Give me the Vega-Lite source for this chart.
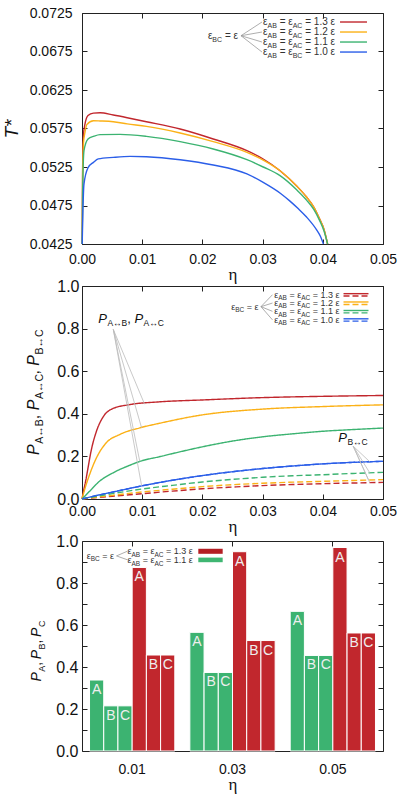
{
  "$schema": "https://vega.github.io/schema/vega-lite/v6.json",
  "padding": {"left": 1, "top": 5, "right": 5, "bottom": 5},
  "bounds": "flush",
  "spacing": 42,
  "config": {
    "font": "Liberation Sans",
    "view": {"stroke": "#222", "strokeWidth": 1},
    "axis": {"grid": false, "domain": false, "tickColor": "#222", "tickSize": -5, "labelColor": "#111", "labelFontSize": 14, "labelFlush": false, "labelOverlap": false, "titleFontWeight": "normal", "titleColor": "#111", "titleFont": "Liberation Serif", "titleFontSize": 17},
    "text": {"color": "#333", "font": "Liberation Sans"}
  },
  "datasets": {
    "temps": [
      {"eta": 0.00003, "T": 0.0425, "r": "1.3"}, {"eta": 0.0001, "T": 0.052, "r": "1.3"}, {"eta": 0.00025, "T": 0.0567, "r": "1.3"}, {"eta": 0.0005, "T": 0.0581, "r": "1.3"}, {"eta": 0.001, "T": 0.0592, "r": "1.3"}, {"eta": 0.0019, "T": 0.0595, "r": "1.3"}, {"eta": 0.003, "T": 0.05955, "r": "1.3"}, {"eta": 0.0052, "T": 0.05925, "r": "1.3"}, {"eta": 0.0075, "T": 0.0589, "r": "1.3"}, {"eta": 0.0107, "T": 0.05838, "r": "1.3"}, {"eta": 0.0163, "T": 0.05743, "r": "1.3"}, {"eta": 0.0218, "T": 0.05614, "r": "1.3"}, {"eta": 0.0274, "T": 0.05462, "r": "1.3"}, {"eta": 0.0301, "T": 0.05354, "r": "1.3"}, {"eta": 0.0329, "T": 0.05202, "r": "1.3"}, {"eta": 0.0357, "T": 0.05, "r": "1.3"}, {"eta": 0.0373, "T": 0.0486, "r": "1.3"}, {"eta": 0.0385, "T": 0.0473, "r": "1.3"}, {"eta": 0.0395, "T": 0.0457, "r": "1.3"}, {"eta": 0.0402, "T": 0.0444, "r": "1.3"}, {"eta": 0.0408, "T": 0.0425, "r": "1.3"},
      {"eta": 0.00003, "T": 0.0425, "r": "1.2"}, {"eta": 0.0001, "T": 0.051, "r": "1.2"}, {"eta": 0.00025, "T": 0.0557, "r": "1.2"}, {"eta": 0.0005, "T": 0.057, "r": "1.2"}, {"eta": 0.0008, "T": 0.058, "r": "1.2"}, {"eta": 0.0019, "T": 0.05851, "r": "1.2"}, {"eta": 0.003, "T": 0.05848, "r": "1.2"}, {"eta": 0.0052, "T": 0.05838, "r": "1.2"}, {"eta": 0.0075, "T": 0.0581, "r": "1.2"}, {"eta": 0.0107, "T": 0.05777, "r": "1.2"}, {"eta": 0.0163, "T": 0.05691, "r": "1.2"}, {"eta": 0.0218, "T": 0.05579, "r": "1.2"}, {"eta": 0.0274, "T": 0.0544, "r": "1.2"}, {"eta": 0.0301, "T": 0.0534, "r": "1.2"}, {"eta": 0.0329, "T": 0.05202, "r": "1.2"}, {"eta": 0.0357, "T": 0.05, "r": "1.2"}, {"eta": 0.0373, "T": 0.0486, "r": "1.2"}, {"eta": 0.0385, "T": 0.0473, "r": "1.2"}, {"eta": 0.0395, "T": 0.0457, "r": "1.2"}, {"eta": 0.0402, "T": 0.0444, "r": "1.2"}, {"eta": 0.0408, "T": 0.0425, "r": "1.2"},
      {"eta": 0.00003, "T": 0.0425, "r": "1.1"}, {"eta": 0.0001, "T": 0.049, "r": "1.1"}, {"eta": 0.00033, "T": 0.05462, "r": "1.1"}, {"eta": 0.001, "T": 0.05614, "r": "1.1"}, {"eta": 0.002, "T": 0.0565, "r": "1.1"}, {"eta": 0.003, "T": 0.0567, "r": "1.1"}, {"eta": 0.0063, "T": 0.05674, "r": "1.1"}, {"eta": 0.0107, "T": 0.05648, "r": "1.1"}, {"eta": 0.0163, "T": 0.05579, "r": "1.1"}, {"eta": 0.0218, "T": 0.05484, "r": "1.1"}, {"eta": 0.0274, "T": 0.05345, "r": "1.1"}, {"eta": 0.0301, "T": 0.0525, "r": "1.1"}, {"eta": 0.0329, "T": 0.05137, "r": "1.1"}, {"eta": 0.0357, "T": 0.0495, "r": "1.1"}, {"eta": 0.0373, "T": 0.0482, "r": "1.1"}, {"eta": 0.0385, "T": 0.047, "r": "1.1"}, {"eta": 0.0395, "T": 0.0455, "r": "1.1"}, {"eta": 0.0402, "T": 0.0442, "r": "1.1"}, {"eta": 0.0408, "T": 0.0425, "r": "1.1"},
      {"eta": 0.00003, "T": 0.0425, "r": "1.0"}, {"eta": 0.00015, "T": 0.0468, "r": "1.0"}, {"eta": 0.00033, "T": 0.0503, "r": "1.0"}, {"eta": 0.001, "T": 0.0524, "r": "1.0"}, {"eta": 0.0019, "T": 0.0531, "r": "1.0"}, {"eta": 0.0027, "T": 0.05355, "r": "1.0"}, {"eta": 0.0052, "T": 0.05375, "r": "1.0"}, {"eta": 0.008, "T": 0.05388, "r": "1.0"}, {"eta": 0.0107, "T": 0.05384, "r": "1.0"}, {"eta": 0.0163, "T": 0.05345, "r": "1.0"}, {"eta": 0.0218, "T": 0.05276, "r": "1.0"}, {"eta": 0.0274, "T": 0.0516, "r": "1.0"}, {"eta": 0.0301, "T": 0.0505, "r": "1.0"}, {"eta": 0.0331, "T": 0.049, "r": "1.0"}, {"eta": 0.0345, "T": 0.0481, "r": "1.0"}, {"eta": 0.0359, "T": 0.0471, "r": "1.0"}, {"eta": 0.0373, "T": 0.046, "r": "1.0"}, {"eta": 0.039, "T": 0.0443, "r": "1.0"}, {"eta": 0.0396, "T": 0.0435, "r": "1.0"}, {"eta": 0.0401, "T": 0.0425, "r": "1.0"}
    ],
    "probs": [
      {"eta": 0, "P": 0, "r": "1.3", "pair": "AB"}, {"eta": 0.0002, "P": 0.03, "r": "1.3", "pair": "AB"}, {"eta": 0.0006, "P": 0.083, "r": "1.3", "pair": "AB"}, {"eta": 0.001, "P": 0.146, "r": "1.3", "pair": "AB"}, {"eta": 0.0015, "P": 0.224, "r": "1.3", "pair": "AB"}, {"eta": 0.0024, "P": 0.318, "r": "1.3", "pair": "AB"}, {"eta": 0.0035, "P": 0.385, "r": "1.3", "pair": "AB"}, {"eta": 0.005, "P": 0.423, "r": "1.3", "pair": "AB"}, {"eta": 0.0079, "P": 0.443, "r": "1.3", "pair": "AB"}, {"eta": 0.0128, "P": 0.456, "r": "1.3", "pair": "AB"}, {"eta": 0.02, "P": 0.465, "r": "1.3", "pair": "AB"}, {"eta": 0.03, "P": 0.476, "r": "1.3", "pair": "AB"}, {"eta": 0.04, "P": 0.482, "r": "1.3", "pair": "AB"}, {"eta": 0.05, "P": 0.486, "r": "1.3", "pair": "AB"},
      {"eta": 0, "P": 0, "r": "1.2", "pair": "AB"}, {"eta": 0.0005, "P": 0.05, "r": "1.2", "pair": "AB"}, {"eta": 0.00125, "P": 0.114, "r": "1.2", "pair": "AB"}, {"eta": 0.0024, "P": 0.193, "r": "1.2", "pair": "AB"}, {"eta": 0.004, "P": 0.263, "r": "1.2", "pair": "AB"}, {"eta": 0.0062, "P": 0.302, "r": "1.2", "pair": "AB"}, {"eta": 0.0096, "P": 0.334, "r": "1.2", "pair": "AB"}, {"eta": 0.0128, "P": 0.355, "r": "1.2", "pair": "AB"}, {"eta": 0.02, "P": 0.395, "r": "1.2", "pair": "AB"}, {"eta": 0.03, "P": 0.422, "r": "1.2", "pair": "AB"}, {"eta": 0.04, "P": 0.434, "r": "1.2", "pair": "AB"}, {"eta": 0.05, "P": 0.442, "r": "1.2", "pair": "AB"},
      {"eta": 0, "P": 0, "r": "1.1", "pair": "AB"}, {"eta": 0.00125, "P": 0.036, "r": "1.1", "pair": "AB"}, {"eta": 0.0029, "P": 0.083, "r": "1.1", "pair": "AB"}, {"eta": 0.0051, "P": 0.122, "r": "1.1", "pair": "AB"}, {"eta": 0.0079, "P": 0.158, "r": "1.1", "pair": "AB"}, {"eta": 0.01, "P": 0.18, "r": "1.1", "pair": "AB"}, {"eta": 0.0128, "P": 0.198, "r": "1.1", "pair": "AB"}, {"eta": 0.015, "P": 0.213, "r": "1.1", "pair": "AB"}, {"eta": 0.02, "P": 0.245, "r": "1.1", "pair": "AB"}, {"eta": 0.025, "P": 0.272, "r": "1.1", "pair": "AB"}, {"eta": 0.03, "P": 0.292, "r": "1.1", "pair": "AB"}, {"eta": 0.035, "P": 0.306, "r": "1.1", "pair": "AB"}, {"eta": 0.04, "P": 0.318, "r": "1.1", "pair": "AB"}, {"eta": 0.045, "P": 0.326, "r": "1.1", "pair": "AB"}, {"eta": 0.05, "P": 0.333, "r": "1.1", "pair": "AB"},
      {"eta": 0, "P": 0, "r": "1.0", "pair": "AB"}, {"eta": 0.0025, "P": 0.017, "r": "1.0", "pair": "AB"}, {"eta": 0.005, "P": 0.032, "r": "1.0", "pair": "AB"}, {"eta": 0.01, "P": 0.062, "r": "1.0", "pair": "AB"}, {"eta": 0.015, "P": 0.088, "r": "1.0", "pair": "AB"}, {"eta": 0.02, "P": 0.11, "r": "1.0", "pair": "AB"}, {"eta": 0.025, "P": 0.128, "r": "1.0", "pair": "AB"}, {"eta": 0.03, "P": 0.143, "r": "1.0", "pair": "AB"}, {"eta": 0.035, "P": 0.155, "r": "1.0", "pair": "AB"}, {"eta": 0.04, "P": 0.165, "r": "1.0", "pair": "AB"}, {"eta": 0.045, "P": 0.172, "r": "1.0", "pair": "AB"}, {"eta": 0.05, "P": 0.177, "r": "1.0", "pair": "AB"},
      {"eta": 0, "P": 0, "r": "1.3", "pair": "BC"}, {"eta": 0.005, "P": 0.013, "r": "1.3", "pair": "BC"}, {"eta": 0.01, "P": 0.025, "r": "1.3", "pair": "BC"}, {"eta": 0.015, "P": 0.037, "r": "1.3", "pair": "BC"}, {"eta": 0.02, "P": 0.048, "r": "1.3", "pair": "BC"}, {"eta": 0.025, "P": 0.056, "r": "1.3", "pair": "BC"}, {"eta": 0.03, "P": 0.063, "r": "1.3", "pair": "BC"}, {"eta": 0.035, "P": 0.068, "r": "1.3", "pair": "BC"}, {"eta": 0.04, "P": 0.072, "r": "1.3", "pair": "BC"}, {"eta": 0.045, "P": 0.075, "r": "1.3", "pair": "BC"}, {"eta": 0.05, "P": 0.078, "r": "1.3", "pair": "BC"},
      {"eta": 0, "P": 0, "r": "1.2", "pair": "BC"}, {"eta": 0.005, "P": 0.017, "r": "1.2", "pair": "BC"}, {"eta": 0.01, "P": 0.033, "r": "1.2", "pair": "BC"}, {"eta": 0.015, "P": 0.046, "r": "1.2", "pair": "BC"}, {"eta": 0.02, "P": 0.058, "r": "1.2", "pair": "BC"}, {"eta": 0.025, "P": 0.067, "r": "1.2", "pair": "BC"}, {"eta": 0.03, "P": 0.074, "r": "1.2", "pair": "BC"}, {"eta": 0.035, "P": 0.079, "r": "1.2", "pair": "BC"}, {"eta": 0.04, "P": 0.083, "r": "1.2", "pair": "BC"}, {"eta": 0.045, "P": 0.087, "r": "1.2", "pair": "BC"}, {"eta": 0.05, "P": 0.091, "r": "1.2", "pair": "BC"},
      {"eta": 0, "P": 0, "r": "1.1", "pair": "BC"}, {"eta": 0.0025, "P": 0.013, "r": "1.1", "pair": "BC"}, {"eta": 0.005, "P": 0.025, "r": "1.1", "pair": "BC"}, {"eta": 0.01, "P": 0.047, "r": "1.1", "pair": "BC"}, {"eta": 0.015, "P": 0.064, "r": "1.1", "pair": "BC"}, {"eta": 0.02, "P": 0.08, "r": "1.1", "pair": "BC"}, {"eta": 0.025, "P": 0.092, "r": "1.1", "pair": "BC"}, {"eta": 0.03, "P": 0.102, "r": "1.1", "pair": "BC"}, {"eta": 0.035, "P": 0.109, "r": "1.1", "pair": "BC"}, {"eta": 0.04, "P": 0.114, "r": "1.1", "pair": "BC"}, {"eta": 0.045, "P": 0.12, "r": "1.1", "pair": "BC"}, {"eta": 0.05, "P": 0.125, "r": "1.1", "pair": "BC"},
      {"eta": 0, "P": 0, "r": "1.0", "pair": "BC"}, {"eta": 0.0025, "P": 0.017, "r": "1.0", "pair": "BC"}, {"eta": 0.005, "P": 0.032, "r": "1.0", "pair": "BC"}, {"eta": 0.01, "P": 0.062, "r": "1.0", "pair": "BC"}, {"eta": 0.015, "P": 0.088, "r": "1.0", "pair": "BC"}, {"eta": 0.02, "P": 0.11, "r": "1.0", "pair": "BC"}, {"eta": 0.025, "P": 0.128, "r": "1.0", "pair": "BC"}, {"eta": 0.03, "P": 0.143, "r": "1.0", "pair": "BC"}, {"eta": 0.035, "P": 0.155, "r": "1.0", "pair": "BC"}, {"eta": 0.04, "P": 0.165, "r": "1.0", "pair": "BC"}, {"eta": 0.045, "P": 0.172, "r": "1.0", "pair": "BC"}, {"eta": 0.05, "P": 0.177, "r": "1.0", "pair": "BC"}
    ],
    "bars": [
      {"eta": "0.01", "r": "1.1", "site": "A", "key": "1.1 A", "P": 0.338}, {"eta": "0.01", "r": "1.1", "site": "B", "key": "1.1 B", "P": 0.215}, {"eta": "0.01", "r": "1.1", "site": "C", "key": "1.1 C", "P": 0.215},
      {"eta": "0.01", "r": "1.3", "site": "A", "key": "1.3 A", "P": 0.874}, {"eta": "0.01", "r": "1.3", "site": "B", "key": "1.3 B", "P": 0.457}, {"eta": "0.01", "r": "1.3", "site": "C", "key": "1.3 C", "P": 0.457},
      {"eta": "0.03", "r": "1.1", "site": "A", "key": "1.1 A", "P": 0.565}, {"eta": "0.03", "r": "1.1", "site": "B", "key": "1.1 B", "P": 0.374}, {"eta": "0.03", "r": "1.1", "site": "C", "key": "1.1 C", "P": 0.374},
      {"eta": "0.03", "r": "1.3", "site": "A", "key": "1.3 A", "P": 0.949}, {"eta": "0.03", "r": "1.3", "site": "B", "key": "1.3 B", "P": 0.526}, {"eta": "0.03", "r": "1.3", "site": "C", "key": "1.3 C", "P": 0.526},
      {"eta": "0.05", "r": "1.1", "site": "A", "key": "1.1 A", "P": 0.665}, {"eta": "0.05", "r": "1.1", "site": "B", "key": "1.1 B", "P": 0.455}, {"eta": "0.05", "r": "1.1", "site": "C", "key": "1.1 C", "P": 0.455},
      {"eta": "0.05", "r": "1.3", "site": "A", "key": "1.3 A", "P": 0.969}, {"eta": "0.05", "r": "1.3", "site": "B", "key": "1.3 B", "P": 0.562}, {"eta": "0.05", "r": "1.3", "site": "C", "key": "1.3 C", "P": 0.562}
    ]
  },
  "vconcat": [
    {
      "width": 301, "height": 231,
      "layer": [
        {"data": {"name": "temps"}, "mark": {"type": "line", "interpolate": "monotone", "strokeWidth": 1.4},
         "encoding": {
           "x": {"field": "eta", "type": "quantitative", "scale": {"domain": [0, 0.05], "nice": false, "zero": false}, "axis": {"orient": "bottom", "values": [0, 0.01, 0.02, 0.03, 0.04, 0.05], "format": ".2f", "title": "η", "labelPadding": 13, "titlePadding": 0}},
           "y": {"field": "T", "type": "quantitative", "scale": {"domain": [0.0425, 0.0725], "nice": false, "zero": false}, "axis": {"orient": "left", "values": [0.0425, 0.0475, 0.0525, 0.0575, 0.0625, 0.0675, 0.0725], "format": ".4f", "title": "T*", "titleFont": "Liberation Sans", "titleFontStyle": "italic", "titleFontSize": 19, "labelPadding": 15, "titlePadding": 8}},
           "color": {"field": "r", "type": "nominal", "scale": {"domain": ["1.3", "1.2", "1.1", "1.0"], "range": ["#c1272d", "#fbb117", "#3cb371", "#2b5ee8"]}, "legend": null}
         }},
        {"data": {"name": "temps"}, "mark": {"type": "line", "opacity": 0},
         "encoding": {
           "x": {"field": "eta", "type": "quantitative", "axis": {"orient": "top", "values": [0, 0.01, 0.02, 0.03, 0.04, 0.05], "labels": false, "title": null}},
           "y": {"field": "T", "type": "quantitative", "axis": {"orient": "right", "values": [0.0425, 0.0475, 0.0525, 0.0575, 0.0625, 0.0675, 0.0725], "labels": false, "title": null}}
         }},
        {"data": {"values": [{}]}, "mark": {"type": "text", "align": "right", "baseline": "alphabetic", "fontSize": 10, "lineHeight": 10, "text": [" = 1.3 ε", " = 1.2 ε", " = 1.1 ε", " = 1.0 ε"]},
         "encoding": {"x": {"datum": 0.04203, "axis": null}, "y": {"datum": 0.070877, "axis": null}}},
        {"data": {"values": [{}]}, "mark": {"type": "text", "align": "right", "baseline": "alphabetic", "fontSize": 7, "lineHeight": 10, "dx": -32.6, "dy": 2.5, "text": ["AC", "AC", "AC", "BC"]},
         "encoding": {"x": {"datum": 0.04203, "axis": null}, "y": {"datum": 0.070877, "axis": null}}},
        {"data": {"values": [{}]}, "mark": {"type": "text", "align": "right", "baseline": "alphabetic", "fontSize": 10, "lineHeight": 10, "dx": -42.3, "text": [" = ε", " = ε", " = ε", " = ε"]},
         "encoding": {"x": {"datum": 0.04203, "axis": null}, "y": {"datum": 0.070877, "axis": null}}},
        {"data": {"values": [{}]}, "mark": {"type": "text", "align": "right", "baseline": "alphabetic", "fontSize": 7, "lineHeight": 10, "dx": -58.2, "dy": 2.5, "text": ["AB", "AB", "AB", "AB"]},
         "encoding": {"x": {"datum": 0.04203, "axis": null}, "y": {"datum": 0.070877, "axis": null}}},
        {"data": {"values": [{}]}, "mark": {"type": "text", "align": "right", "baseline": "alphabetic", "fontSize": 10, "lineHeight": 10, "dx": -67.5, "text": ["ε", "ε", "ε", "ε"]},
         "encoding": {"x": {"datum": 0.04203, "axis": null}, "y": {"datum": 0.070877, "axis": null}}},
        {"data": {"values": [{}]}, "mark": {"type": "text", "align": "right", "baseline": "alphabetic", "fontSize": 10, "text": " = ε"},
         "encoding": {"x": {"datum": 0.02591, "axis": null}, "y": {"datum": 0.0691, "axis": null}}},
        {"data": {"values": [{}]}, "mark": {"type": "text", "align": "right", "baseline": "alphabetic", "fontSize": 7, "dx": -15.9, "dy": 2.5, "text": "BC"},
         "encoding": {"x": {"datum": 0.02591, "axis": null}, "y": {"datum": 0.0691, "axis": null}}},
        {"data": {"values": [{}]}, "mark": {"type": "text", "align": "right", "baseline": "alphabetic", "fontSize": 10, "dx": -25.6, "text": "ε"},
         "encoding": {"x": {"datum": 0.02591, "axis": null}, "y": {"datum": 0.0691, "axis": null}}},
        {"data": {"values": [{}]}, "mark": {"type": "rule", "color": "#999", "strokeWidth": 0.8},
         "encoding": {"x": {"datum": 0.02641, "axis": null}, "y": {"datum": 0.06955, "axis": null}, "x2": {"datum": 0.0299}, "y2": {"datum": 0.07133}}},
        {"data": {"values": [{}]}, "mark": {"type": "rule", "color": "#999", "strokeWidth": 0.8},
         "encoding": {"x": {"datum": 0.02641, "axis": null}, "y": {"datum": 0.06955, "axis": null}, "x2": {"datum": 0.0299}, "y2": {"datum": 0.07003}}},
        {"data": {"values": [{}]}, "mark": {"type": "rule", "color": "#999", "strokeWidth": 0.8},
         "encoding": {"x": {"datum": 0.02641, "axis": null}, "y": {"datum": 0.06955, "axis": null}, "x2": {"datum": 0.0299}, "y2": {"datum": 0.06873}}},
        {"data": {"values": [{}]}, "mark": {"type": "rule", "color": "#999", "strokeWidth": 0.8},
         "encoding": {"x": {"datum": 0.02641, "axis": null}, "y": {"datum": 0.06955, "axis": null}, "x2": {"datum": 0.0299}, "y2": {"datum": 0.06743}}},
        {"data": {"values": [{}]}, "mark": {"type": "rule", "color": "#c1272d", "strokeWidth": 1.4},
         "encoding": {"x": {"datum": 0.04286, "axis": null}, "x2": {"datum": 0.04734}, "y": {"datum": 0.07133, "axis": null}}},
        {"data": {"values": [{}]}, "mark": {"type": "rule", "color": "#fbb117", "strokeWidth": 1.4},
         "encoding": {"x": {"datum": 0.04286, "axis": null}, "x2": {"datum": 0.04734}, "y": {"datum": 0.07003, "axis": null}}},
        {"data": {"values": [{}]}, "mark": {"type": "rule", "color": "#3cb371", "strokeWidth": 1.4},
         "encoding": {"x": {"datum": 0.04286, "axis": null}, "x2": {"datum": 0.04734}, "y": {"datum": 0.06873, "axis": null}}},
        {"data": {"values": [{}]}, "mark": {"type": "rule", "color": "#2b5ee8", "strokeWidth": 1.4},
         "encoding": {"x": {"datum": 0.04286, "axis": null}, "x2": {"datum": 0.04734}, "y": {"datum": 0.06743, "axis": null}}}
      ]
    },
    {
      "width": 301, "height": 213,
      "layer": [
        {"data": {"name": "probs"}, "mark": {"type": "line", "interpolate": "monotone", "strokeWidth": 1.4},
         "encoding": {
           "x": {"field": "eta", "type": "quantitative", "scale": {"domain": [0, 0.05], "nice": false, "zero": false}, "axis": {"orient": "bottom", "values": [0, 0.01, 0.02, 0.03, 0.04, 0.05], "format": ".2f", "title": "η", "labelPadding": 10, "titlePadding": 0}},
           "y": {"field": "P", "type": "quantitative", "scale": {"domain": [0, 1], "nice": false}, "axis": {"orient": "left", "values": [0, 0.2, 0.4, 0.6, 0.8, 1], "format": ".1f", "title": null, "labelPadding": 8, "labelFontSize": 16}},
           "color": {"field": "r", "type": "nominal", "scale": {"domain": ["1.3", "1.2", "1.1", "1.0"], "range": ["#c1272d", "#fbb117", "#3cb371", "#2b5ee8"]}, "legend": null},
           "strokeDash": {"field": "pair", "type": "nominal", "scale": {"domain": ["AB", "BC"], "range": [[1, 0], [6, 3]]}, "legend": null}
         }},
        {"data": {"name": "probs"}, "mark": {"type": "line", "opacity": 0},
         "encoding": {
           "x": {"field": "eta", "type": "quantitative", "axis": {"orient": "top", "values": [0, 0.01, 0.02, 0.03, 0.04, 0.05], "labels": false, "title": null}},
           "y": {"field": "P", "type": "quantitative", "axis": {"orient": "right", "values": [0, 0.2, 0.4, 0.6, 0.8, 1], "labels": false, "title": null}}
         }},
        {"data": {"values": [{}]}, "mark": {"type": "text", "align": "right", "baseline": "alphabetic", "fontSize": 9, "lineHeight": 8.2, "text": [" = 1.3 ε", " = 1.2 ε", " = 1.1 ε", " = 1.0 ε"]},
         "encoding": {"x": {"datum": 0.04277, "axis": null}, "y": {"datum": 0.944, "axis": null}}},
        {"data": {"values": [{}]}, "mark": {"type": "text", "align": "right", "baseline": "alphabetic", "fontSize": 6.5, "lineHeight": 8.2, "dx": -29.3, "dy": 2.3, "text": ["AC", "AC", "AC", "AC"]},
         "encoding": {"x": {"datum": 0.04277, "axis": null}, "y": {"datum": 0.944, "axis": null}}},
        {"data": {"values": [{}]}, "mark": {"type": "text", "align": "right", "baseline": "alphabetic", "fontSize": 9, "lineHeight": 8.2, "dx": -38.3, "text": [" = ε", " = ε", " = ε", " = ε"]},
         "encoding": {"x": {"datum": 0.04277, "axis": null}, "y": {"datum": 0.944, "axis": null}}},
        {"data": {"values": [{}]}, "mark": {"type": "text", "align": "right", "baseline": "alphabetic", "fontSize": 6.5, "lineHeight": 8.2, "dx": -52.6, "dy": 2.3, "text": ["AB", "AB", "AB", "AB"]},
         "encoding": {"x": {"datum": 0.04277, "axis": null}, "y": {"datum": 0.944, "axis": null}}},
        {"data": {"values": [{}]}, "mark": {"type": "text", "align": "right", "baseline": "alphabetic", "fontSize": 9, "lineHeight": 8.2, "dx": -61.3, "text": ["ε", "ε", "ε", "ε"]},
         "encoding": {"x": {"datum": 0.04277, "axis": null}, "y": {"datum": 0.944, "axis": null}}},
        {"data": {"values": [{}]}, "mark": {"type": "text", "align": "right", "baseline": "alphabetic", "fontSize": 9, "text": " = ε"},
         "encoding": {"x": {"datum": 0.02932, "axis": null}, "y": {"datum": 0.889, "axis": null}}},
        {"data": {"values": [{}]}, "mark": {"type": "text", "align": "right", "baseline": "alphabetic", "fontSize": 6.5, "dx": -14.3, "dy": 2.3, "text": "BC"},
         "encoding": {"x": {"datum": 0.02932, "axis": null}, "y": {"datum": 0.889, "axis": null}}},
        {"data": {"values": [{}]}, "mark": {"type": "text", "align": "right", "baseline": "alphabetic", "fontSize": 9, "dx": -23.3, "text": "ε"},
         "encoding": {"x": {"datum": 0.02932, "axis": null}, "y": {"datum": 0.889, "axis": null}}},
        {"data": {"values": [{}]}, "mark": {"type": "rule", "color": "#999", "strokeWidth": 0.8},
         "encoding": {"x": {"datum": 0.02973, "axis": null}, "y": {"datum": 0.903, "axis": null}, "x2": {"datum": 0.03164}, "y2": {"datum": 0.959}}},
        {"data": {"values": [{}]}, "mark": {"type": "rule", "color": "#999", "strokeWidth": 0.8},
         "encoding": {"x": {"datum": 0.02973, "axis": null}, "y": {"datum": 0.903, "axis": null}, "x2": {"datum": 0.03164}, "y2": {"datum": 0.92}}},
        {"data": {"values": [{}]}, "mark": {"type": "rule", "color": "#999", "strokeWidth": 0.8},
         "encoding": {"x": {"datum": 0.02973, "axis": null}, "y": {"datum": 0.903, "axis": null}, "x2": {"datum": 0.03164}, "y2": {"datum": 0.881}}},
        {"data": {"values": [{}]}, "mark": {"type": "rule", "color": "#999", "strokeWidth": 0.8},
         "encoding": {"x": {"datum": 0.02973, "axis": null}, "y": {"datum": 0.903, "axis": null}, "x2": {"datum": 0.03164}, "y2": {"datum": 0.841}}},
        {"data": {"values": [{}]}, "mark": {"type": "rule", "color": "#c1272d", "strokeWidth": 1.4},
         "encoding": {"x": {"datum": 0.04344, "axis": null}, "x2": {"datum": 0.04759}, "y": {"datum": 0.964, "axis": null}}},
        {"data": {"values": [{}]}, "mark": {"type": "rule", "color": "#c1272d", "strokeWidth": 1.4, "strokeDash": [6, 3]},
         "encoding": {"x": {"datum": 0.04344, "axis": null}, "x2": {"datum": 0.04759}, "y": {"datum": 0.953, "axis": null}}},
        {"data": {"values": [{}]}, "mark": {"type": "rule", "color": "#fbb117", "strokeWidth": 1.4},
         "encoding": {"x": {"datum": 0.04344, "axis": null}, "x2": {"datum": 0.04759}, "y": {"datum": 0.925, "axis": null}}},
        {"data": {"values": [{}]}, "mark": {"type": "rule", "color": "#fbb117", "strokeWidth": 1.4, "strokeDash": [6, 3]},
         "encoding": {"x": {"datum": 0.04344, "axis": null}, "x2": {"datum": 0.04759}, "y": {"datum": 0.913, "axis": null}}},
        {"data": {"values": [{}]}, "mark": {"type": "rule", "color": "#3cb371", "strokeWidth": 1.4},
         "encoding": {"x": {"datum": 0.04344, "axis": null}, "x2": {"datum": 0.04759}, "y": {"datum": 0.885, "axis": null}}},
        {"data": {"values": [{}]}, "mark": {"type": "rule", "color": "#3cb371", "strokeWidth": 1.4, "strokeDash": [6, 3]},
         "encoding": {"x": {"datum": 0.04344, "axis": null}, "x2": {"datum": 0.04759}, "y": {"datum": 0.874, "axis": null}}},
        {"data": {"values": [{}]}, "mark": {"type": "rule", "color": "#2b5ee8", "strokeWidth": 1.4},
         "encoding": {"x": {"datum": 0.04344, "axis": null}, "x2": {"datum": 0.04759}, "y": {"datum": 0.846, "axis": null}}},
        {"data": {"values": [{}]}, "mark": {"type": "rule", "color": "#2b5ee8", "strokeWidth": 1.4, "strokeDash": [6, 3]},
         "encoding": {"x": {"datum": 0.04344, "axis": null}, "x2": {"datum": 0.04759}, "y": {"datum": 0.835, "axis": null}}},
        {"data": {"values": [{}]}, "mark": {"type": "rule", "color": "#bbb", "strokeWidth": 0.8},
         "encoding": {"x": {"datum": 0.0052, "axis": null}, "y": {"datum": 0.796, "axis": null}, "x2": {"datum": 0.0104}, "y2": {"datum": 0.445}}},
        {"data": {"values": [{}]}, "mark": {"type": "rule", "color": "#bbb", "strokeWidth": 0.8},
         "encoding": {"x": {"datum": 0.0052, "axis": null}, "y": {"datum": 0.796, "axis": null}, "x2": {"datum": 0.0099}, "y2": {"datum": 0.334}}},
        {"data": {"values": [{}]}, "mark": {"type": "rule", "color": "#bbb", "strokeWidth": 0.8},
         "encoding": {"x": {"datum": 0.0052, "axis": null}, "y": {"datum": 0.796, "axis": null}, "x2": {"datum": 0.0096}, "y2": {"datum": 0.176}}},
        {"data": {"values": [{}]}, "mark": {"type": "rule", "color": "#bbb", "strokeWidth": 0.8},
         "encoding": {"x": {"datum": 0.0052, "axis": null}, "y": {"datum": 0.796, "axis": null}, "x2": {"datum": 0.0099}, "y2": {"datum": 0.062}}},
        {"data": {"values": [{}]}, "mark": {"type": "rule", "color": "#bbb", "strokeWidth": 0.8},
         "encoding": {"x": {"datum": 0.04505, "axis": null}, "y": {"datum": 0.248, "axis": null}, "x2": {"datum": 0.0478}, "y2": {"datum": 0.175}}},
        {"data": {"values": [{}]}, "mark": {"type": "rule", "color": "#bbb", "strokeWidth": 0.8},
         "encoding": {"x": {"datum": 0.04505, "axis": null}, "y": {"datum": 0.248, "axis": null}, "x2": {"datum": 0.0478}, "y2": {"datum": 0.123}}},
        {"data": {"values": [{}]}, "mark": {"type": "rule", "color": "#bbb", "strokeWidth": 0.8},
         "encoding": {"x": {"datum": 0.04505, "axis": null}, "y": {"datum": 0.248, "axis": null}, "x2": {"datum": 0.0476}, "y2": {"datum": 0.089}}},
        {"data": {"values": [{}]}, "mark": {"type": "rule", "color": "#bbb", "strokeWidth": 0.8},
         "encoding": {"x": {"datum": 0.04505, "axis": null}, "y": {"datum": 0.248, "axis": null}, "x2": {"datum": 0.0478}, "y2": {"datum": 0.077}}},
        {"data": {"values": [{}]}, "mark": {"type": "text", "align": "left", "baseline": "alphabetic", "fontSize": 13, "fontStyle": "italic", "color": "#111", "text": "P"},
         "encoding": {"x": {"datum": 0.00269, "axis": null}, "y": {"datum": 0.8275, "axis": null}}},
        {"data": {"values": [{}]}, "mark": {"type": "text", "align": "left", "baseline": "alphabetic", "fontSize": 8.5, "color": "#111", "dx": 9.2, "dy": 3, "text": "A↔B"},
         "encoding": {"x": {"datum": 0.00269, "axis": null}, "y": {"datum": 0.8275, "axis": null}}},
        {"data": {"values": [{}]}, "mark": {"type": "text", "align": "left", "baseline": "alphabetic", "fontSize": 13, "color": "#111", "dx": 29, "text": ","},
         "encoding": {"x": {"datum": 0.00269, "axis": null}, "y": {"datum": 0.8275, "axis": null}}},
        {"data": {"values": [{}]}, "mark": {"type": "text", "align": "left", "baseline": "alphabetic", "fontSize": 13, "fontStyle": "italic", "color": "#111", "dx": 36.2, "text": "P"},
         "encoding": {"x": {"datum": 0.00269, "axis": null}, "y": {"datum": 0.8275, "axis": null}}},
        {"data": {"values": [{}]}, "mark": {"type": "text", "align": "left", "baseline": "alphabetic", "fontSize": 8.5, "color": "#111", "dx": 45.4, "dy": 3, "text": "A↔C"},
         "encoding": {"x": {"datum": 0.00269, "axis": null}, "y": {"datum": 0.8275, "axis": null}}},
        {"data": {"values": [{}]}, "mark": {"type": "text", "align": "left", "baseline": "alphabetic", "fontSize": 13, "fontStyle": "italic", "color": "#111", "text": "P"},
         "encoding": {"x": {"datum": 0.04256, "axis": null}, "y": {"datum": 0.268, "axis": null}}},
        {"data": {"values": [{}]}, "mark": {"type": "text", "align": "left", "baseline": "alphabetic", "fontSize": 8.5, "color": "#111", "dx": 9.2, "dy": 3, "text": "B↔C"},
         "encoding": {"x": {"datum": 0.04256, "axis": null}, "y": {"datum": 0.268, "axis": null}}},
        {"data": {"values": [{}]}, "mark": {"type": "text", "angle": 270, "align": "left", "baseline": "alphabetic", "fontSize": 16, "fontStyle": "italic", "color": "#111", "dy": -43.5, "text": "P"},
         "encoding": {"x": {"datum": 0, "axis": null}, "y": {"datum": 0.207, "axis": null}}},
        {"data": {"values": [{}]}, "mark": {"type": "text", "angle": 270, "align": "left", "baseline": "alphabetic", "fontSize": 10.5, "color": "#111", "dx": 11.2, "dy": -39.5, "text": "A↔B"},
         "encoding": {"x": {"datum": 0, "axis": null}, "y": {"datum": 0.207, "axis": null}}},
        {"data": {"values": [{}]}, "mark": {"type": "text", "angle": 270, "align": "left", "baseline": "alphabetic", "fontSize": 16, "color": "#111", "dx": 35.7, "dy": -43.5, "text": ","},
         "encoding": {"x": {"datum": 0, "axis": null}, "y": {"datum": 0.207, "axis": null}}},
        {"data": {"values": [{}]}, "mark": {"type": "text", "angle": 270, "align": "left", "baseline": "alphabetic", "fontSize": 16, "fontStyle": "italic", "color": "#111", "dx": 44.6, "dy": -43.5, "text": "P"},
         "encoding": {"x": {"datum": 0, "axis": null}, "y": {"datum": 0.207, "axis": null}}},
        {"data": {"values": [{}]}, "mark": {"type": "text", "angle": 270, "align": "left", "baseline": "alphabetic", "fontSize": 10.5, "color": "#111", "dx": 55.8, "dy": -39.5, "text": "A↔C"},
         "encoding": {"x": {"datum": 0, "axis": null}, "y": {"datum": 0.207, "axis": null}}},
        {"data": {"values": [{}]}, "mark": {"type": "text", "angle": 270, "align": "left", "baseline": "alphabetic", "fontSize": 16, "color": "#111", "dx": 80.3, "dy": -43.5, "text": ","},
         "encoding": {"x": {"datum": 0, "axis": null}, "y": {"datum": 0.207, "axis": null}}},
        {"data": {"values": [{}]}, "mark": {"type": "text", "angle": 270, "align": "left", "baseline": "alphabetic", "fontSize": 16, "fontStyle": "italic", "color": "#111", "dx": 89.2, "dy": -43.5, "text": "P"},
         "encoding": {"x": {"datum": 0, "axis": null}, "y": {"datum": 0.207, "axis": null}}},
        {"data": {"values": [{}]}, "mark": {"type": "text", "angle": 270, "align": "left", "baseline": "alphabetic", "fontSize": 10.5, "color": "#111", "dx": 100.4, "dy": -39.5, "text": "B↔C"},
         "encoding": {"x": {"datum": 0, "axis": null}, "y": {"datum": 0.207, "axis": null}}}
      ]
    },
    {
      "width": 301, "height": 210,
      "resolve": {"scale": {"x": "independent"}},
      "layer": [
        {
          "data": {"name": "bars"},
          "encoding": {
            "x": {"field": "eta", "type": "nominal", "scale": {"paddingInner": 0.15, "paddingOuter": 0.075}, "axis": {"orient": "bottom", "title": "η", "labelAngle": 0, "labelPadding": 16, "titlePadding": 0}},
            "xOffset": {"field": "key", "type": "nominal", "sort": ["1.1 A", "1.1 B", "1.1 C", "1.3 A", "1.3 B", "1.3 C"], "scale": {"paddingInner": 0, "paddingOuter": 0}},
            "y": {"field": "P", "type": "quantitative", "scale": {"domain": [0, 1], "nice": false}, "axis": {"orient": "left", "values": [0, 0.1, 0.2, 0.3, 0.4, 0.5, 0.6, 0.7, 0.8, 0.9, 1], "labelExpr": "round(datum.value*10) % 2 == 0 ? format(datum.value, '.1f') : ''", "title": null, "labelPadding": 9, "labelFontSize": 16}}
          },
          "layer": [
            {"mark": {"type": "bar", "stroke": "#fff", "strokeWidth": 1},
             "encoding": {"color": {"field": "r", "type": "nominal", "scale": {"domain": ["1.3", "1.1"], "range": ["#b41f24", "#3fb672"]}, "legend": null}}},
            {"mark": {"type": "text", "baseline": "top", "dy": 3, "fontSize": 14, "color": "#eeeeee"},
             "encoding": {
               "x": {"field": "eta", "type": "nominal", "axis": null},
               "y": {"field": "P", "type": "quantitative", "axis": null},
               "text": {"field": "site", "type": "nominal"}
             }},
            {"mark": {"type": "bar", "opacity": 0},
             "encoding": {
               "x": {"field": "eta", "type": "nominal", "axis": {"orient": "top", "labels": false, "title": null}},
               "y": {"field": "P", "type": "quantitative", "axis": {"orient": "right", "values": [0, 0.1, 0.2, 0.3, 0.4, 0.5, 0.6, 0.7, 0.8, 0.9, 1], "labels": false, "title": null}}
             }}
          ]
        },
        {"data": {"values": [{}]}, "mark": {"type": "text", "align": "right", "baseline": "alphabetic", "fontSize": 9, "lineHeight": 9, "text": [" = 1.3 ε", " = 1.1 ε"]},
         "encoding": {"x": {"datum": 0.3678, "type": "quantitative", "scale": {"domain": [0, 1]}, "axis": null}, "y": {"datum": 0.936, "axis": null}}},
        {"data": {"values": [{}]}, "mark": {"type": "text", "align": "right", "baseline": "alphabetic", "fontSize": 6.5, "lineHeight": 9, "dx": -29.3, "dy": 2.3, "text": ["AC", "AC"]},
         "encoding": {"x": {"datum": 0.3678, "type": "quantitative", "scale": {"domain": [0, 1]}, "axis": null}, "y": {"datum": 0.936, "axis": null}}},
        {"data": {"values": [{}]}, "mark": {"type": "text", "align": "right", "baseline": "alphabetic", "fontSize": 9, "lineHeight": 9, "dx": -38.3, "text": [" = ε", " = ε"]},
         "encoding": {"x": {"datum": 0.3678, "type": "quantitative", "scale": {"domain": [0, 1]}, "axis": null}, "y": {"datum": 0.936, "axis": null}}},
        {"data": {"values": [{}]}, "mark": {"type": "text", "align": "right", "baseline": "alphabetic", "fontSize": 6.5, "lineHeight": 9, "dx": -52.6, "dy": 2.3, "text": ["AB", "AB"]},
         "encoding": {"x": {"datum": 0.3678, "type": "quantitative", "scale": {"domain": [0, 1]}, "axis": null}, "y": {"datum": 0.936, "axis": null}}},
        {"data": {"values": [{}]}, "mark": {"type": "text", "align": "right", "baseline": "alphabetic", "fontSize": 9, "lineHeight": 9, "dx": -61.3, "text": ["ε", "ε"]},
         "encoding": {"x": {"datum": 0.3678, "type": "quantitative", "scale": {"domain": [0, 1]}, "axis": null}, "y": {"datum": 0.936, "axis": null}}},
        {"data": {"values": [{}]}, "mark": {"type": "text", "align": "right", "baseline": "alphabetic", "fontSize": 9, "text": " = ε"},
         "encoding": {"x": {"datum": 0.1063, "type": "quantitative", "scale": {"domain": [0, 1]}, "axis": null}, "y": {"datum": 0.914, "axis": null}}},
        {"data": {"values": [{}]}, "mark": {"type": "text", "align": "right", "baseline": "alphabetic", "fontSize": 6.5, "dx": -14.3, "dy": 2.3, "text": "BC"},
         "encoding": {"x": {"datum": 0.1063, "type": "quantitative", "scale": {"domain": [0, 1]}, "axis": null}, "y": {"datum": 0.914, "axis": null}}},
        {"data": {"values": [{}]}, "mark": {"type": "text", "align": "right", "baseline": "alphabetic", "fontSize": 9, "dx": -23.3, "text": "ε"},
         "encoding": {"x": {"datum": 0.1063, "type": "quantitative", "scale": {"domain": [0, 1]}, "axis": null}, "y": {"datum": 0.914, "axis": null}}},
        {"data": {"values": [{}]}, "mark": {"type": "rule", "color": "#999", "strokeWidth": 0.8},
         "encoding": {"x": {"datum": 0.1146, "type": "quantitative", "scale": {"domain": [0, 1]}, "axis": null}, "y": {"datum": 0.929, "axis": null}, "x2": {"datum": 0.1518}, "y2": {"datum": 0.952}}},
        {"data": {"values": [{}]}, "mark": {"type": "rule", "color": "#999", "strokeWidth": 0.8},
         "encoding": {"x": {"datum": 0.1146, "type": "quantitative", "scale": {"domain": [0, 1]}, "axis": null}, "y": {"datum": 0.929, "axis": null}, "x2": {"datum": 0.1518}, "y2": {"datum": 0.91}}},
        {"data": {"values": [{}]}, "mark": {"type": "rect", "color": "#b41f24"},
         "encoding": {"x": {"datum": 0.3864, "type": "quantitative", "scale": {"domain": [0, 1]}, "axis": null}, "x2": {"datum": 0.4674}, "y": {"datum": 0.963, "axis": null}, "y2": {"datum": 0.939}}},
        {"data": {"values": [{}]}, "mark": {"type": "rect", "color": "#3fb672"},
         "encoding": {"x": {"datum": 0.3864, "type": "quantitative", "scale": {"domain": [0, 1]}, "axis": null}, "x2": {"datum": 0.4674}, "y": {"datum": 0.921, "axis": null}, "y2": {"datum": 0.899}}},
        {"data": {"values": [{}]}, "mark": {"type": "text", "angle": 270, "align": "left", "baseline": "alphabetic", "fontSize": 14, "fontStyle": "italic", "color": "#111", "dy": -41, "text": "P"},
         "encoding": {"x": {"datum": 0, "type": "quantitative", "scale": {"domain": [0, 1]}, "axis": null}, "y": {"datum": 0.331, "axis": null}}},
        {"data": {"values": [{}]}, "mark": {"type": "text", "angle": 270, "align": "left", "baseline": "alphabetic", "fontSize": 9, "color": "#111", "dx": 9.8, "dy": -37.5, "text": "A"},
         "encoding": {"x": {"datum": 0, "type": "quantitative", "scale": {"domain": [0, 1]}, "axis": null}, "y": {"datum": 0.331, "axis": null}}},
        {"data": {"values": [{}]}, "mark": {"type": "text", "angle": 270, "align": "left", "baseline": "alphabetic", "fontSize": 14, "color": "#111", "dx": 15.8, "dy": -41, "text": ","},
         "encoding": {"x": {"datum": 0, "type": "quantitative", "scale": {"domain": [0, 1]}, "axis": null}, "y": {"datum": 0.331, "axis": null}}},
        {"data": {"values": [{}]}, "mark": {"type": "text", "angle": 270, "align": "left", "baseline": "alphabetic", "fontSize": 14, "fontStyle": "italic", "color": "#111", "dx": 22.3, "dy": -41, "text": "P"},
         "encoding": {"x": {"datum": 0, "type": "quantitative", "scale": {"domain": [0, 1]}, "axis": null}, "y": {"datum": 0.331, "axis": null}}},
        {"data": {"values": [{}]}, "mark": {"type": "text", "angle": 270, "align": "left", "baseline": "alphabetic", "fontSize": 9, "color": "#111", "dx": 32.1, "dy": -37.5, "text": "B"},
         "encoding": {"x": {"datum": 0, "type": "quantitative", "scale": {"domain": [0, 1]}, "axis": null}, "y": {"datum": 0.331, "axis": null}}},
        {"data": {"values": [{}]}, "mark": {"type": "text", "angle": 270, "align": "left", "baseline": "alphabetic", "fontSize": 14, "color": "#111", "dx": 38.1, "dy": -41, "text": ","},
         "encoding": {"x": {"datum": 0, "type": "quantitative", "scale": {"domain": [0, 1]}, "axis": null}, "y": {"datum": 0.331, "axis": null}}},
        {"data": {"values": [{}]}, "mark": {"type": "text", "angle": 270, "align": "left", "baseline": "alphabetic", "fontSize": 14, "fontStyle": "italic", "color": "#111", "dx": 44.6, "dy": -41, "text": "P"},
         "encoding": {"x": {"datum": 0, "type": "quantitative", "scale": {"domain": [0, 1]}, "axis": null}, "y": {"datum": 0.331, "axis": null}}},
        {"data": {"values": [{}]}, "mark": {"type": "text", "angle": 270, "align": "left", "baseline": "alphabetic", "fontSize": 9, "color": "#111", "dx": 54.4, "dy": -37.5, "text": "C"},
         "encoding": {"x": {"datum": 0, "type": "quantitative", "scale": {"domain": [0, 1]}, "axis": null}, "y": {"datum": 0.331, "axis": null}}}
      ]
    }
  ]
}
